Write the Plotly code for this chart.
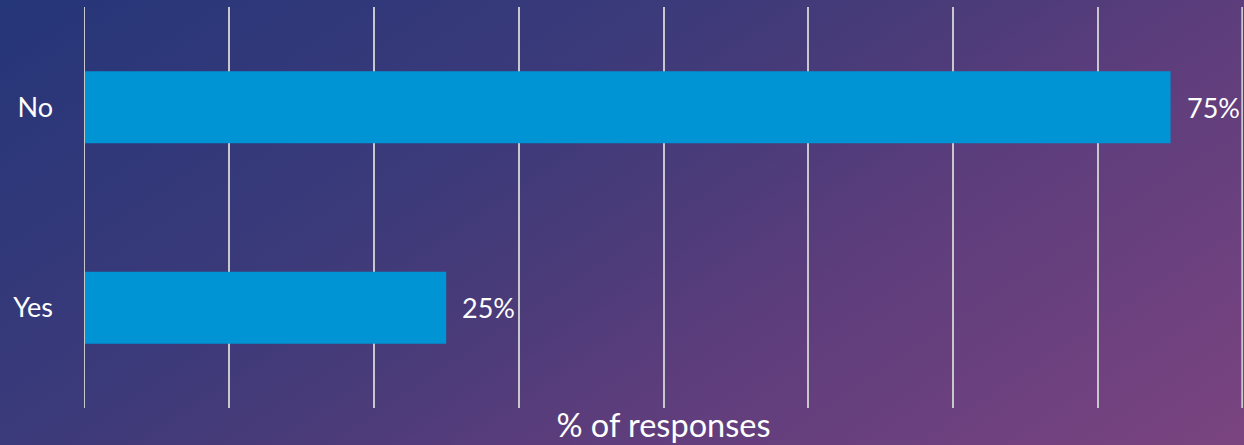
import base64
import plotly.graph_objects as go

categories = ["Yes", "No"]
values = [25, 75]
x_ticks = [0, 10, 20, 30, 40, 50, 60, 70, 80]
axis_title = "% of responses"

W, H = 1244, 445
ml, mr, mt, mb = 84, 1, 7, 37
pw, ph = W - ml - mr, H - mt - mb

svg = f'''<svg xmlns="http://www.w3.org/2000/svg" width="{W}" height="{H}" viewBox="0 0 {W} {H}" preserveAspectRatio="none">
<defs><linearGradient id="g" gradientUnits="userSpaceOnUse" x1="0" y1="0" x2="586" y2="882">
<stop offset="0" stop-color="#253679"/>
<stop offset="0.35" stop-color="#3b3a7a"/>
<stop offset="0.5" stop-color="#4a3b79"/>
<stop offset="0.65" stop-color="#5d3d7c"/>
<stop offset="1" stop-color="#7a4480"/>
</linearGradient></defs>
<rect width="{W}" height="{H}" fill="url(#g)"/></svg>'''
src = "data:image/svg+xml;base64," + base64.b64encode(svg.encode()).decode()

grid_color = "#c8c8cc"

fig = go.Figure()
fig.add_trace(go.Bar(
    x=values, y=categories, orientation="h",
    marker=dict(color="#0094d4", line=dict(width=0)),
    width=0.36, hoverinfo="skip",
))
for c, v in zip(categories, values):
    fig.add_annotation(x=v, y=c, text=f"{v}%", showarrow=False,
                       xanchor="left", xshift=14,
                       font=dict(family="Lato", size=27, color="white"))

fig.update_layout(
    width=W, height=H,
    margin=dict(l=ml, r=mr, t=mt, b=mb, autoexpand=False),
    paper_bgcolor="rgba(0,0,0,0)", plot_bgcolor="rgba(0,0,0,0)",
    showlegend=False,
    font=dict(family="Lato", color="white"),
    images=[dict(source=src, xref="paper", yref="paper",
                 x=-ml / pw, y=1 + mt / ph, sizex=W / pw, sizey=H / ph,
                 xanchor="left", yanchor="top", sizing="stretch", layer="below")],
    xaxis=dict(range=[0, 80], tickvals=x_ticks, showticklabels=False,
               showgrid=True, gridcolor=grid_color, gridwidth=2,
               zeroline=False, showline=False, fixedrange=True,
               title=dict(text=axis_title, font=dict(size=32.5, color="white"), standoff=6),
               automargin=False),
    yaxis=dict(range=[-0.5, 1.5], showgrid=False, zeroline=False, showline=False,
               tickfont=dict(size=27, color="white"), ticks="", ticklabelstandoff=30,
               automargin=False, fixedrange=True),
)
fig.add_vline(x=x_ticks[0], line=dict(color=grid_color, width=2))
fig.add_vline(x=x_ticks[-1] - 0.05, line=dict(color=grid_color, width=2))
fig.write_html("out.html")
